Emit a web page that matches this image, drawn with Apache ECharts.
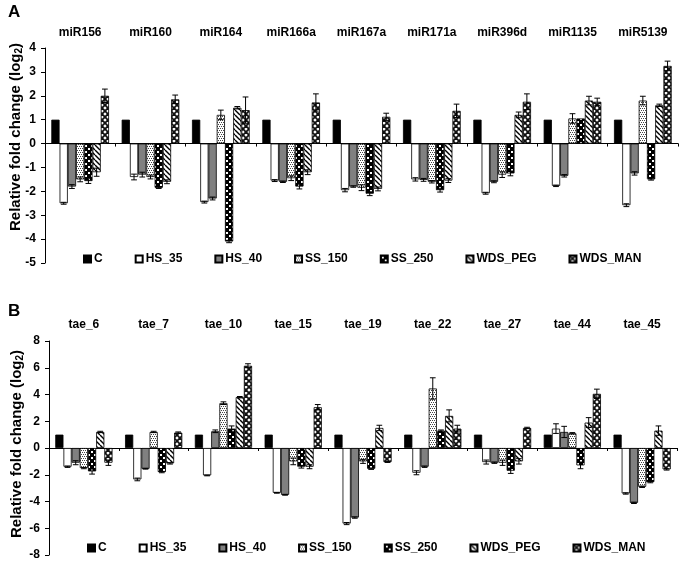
<!DOCTYPE html>
<html><head><meta charset="utf-8">
<script src="https://cdn.jsdelivr.net/npm/echarts@6/dist/echarts.min.js"></script>
<style>html,body{margin:0;padding:0;background:#fff}#c{width:682px;height:563px}</style>
</head><body><div id="c"></div>
<script>
// ---------- DATA ----------
const seriesNames = ['C','HS_35','HS_40','SS_150','SS_250','WDS_PEG','WDS_MAN'];

const catsA = ['miR156','miR160','miR164','miR166a','miR167a','miR171a','miR396d','miR1135','miR5139'];
const A_C      = [1,1,1,1,1,1,1,1,1];
const A_HS35   = [-2.5,-1.4,-2.45,-1.55,-1.95,-1.5,-2.08,-1.77,-2.58];
const A_HS40   = [-1.8,-1.3,-2.3,-1.6,-1.8,-1.52,-1.6,-1.35,-1.25];
const A_SS150  = [-1.5,-1.4,1.2,-1.45,-1.85,-1.6,-1.3,1.05,1.8];
const A_SS250  = [-1.57,-1.85,-4.1,-1.8,-2.1,-1.95,-1.25,1.05,-1.5];
const A_PEG    = [-1.2,-1.6,1.5,-1.2,-1.9,-1.55,1.2,1.8,1.6];
const A_MAN    = [2.0,1.85,1.4,1.72,1.12,1.37,1.75,1.75,3.25];
const A_C_err     = [0,0,0,0,0,0,0,0,0];
const A_HS35_err  = [0.04,0.12,0.04,0.04,0.07,0.07,0.04,0.03,0.06];
const A_HS40_err  = [0.08,0.1,0.06,0.03,0.03,0.06,0.04,0.05,0.07];
const A_SS150_err = [0.1,0.08,0.2,0.1,0.12,0.05,0.12,0.2,0.18];
const A_SS250_err = [0.1,0.03,0.05,0.1,0.08,0.08,0.1,0,0.03];
const A_PEG_err   = [0.17,0.08,0.05,0.1,0.08,0.08,0.12,0.18,0.05];
const A_MAN_err   = [0.28,0.18,0.55,0.36,0.15,0.28,0.33,0.15,0.2];

const catsB = ['tae_6','tae_7','tae_10','tae_15','tae_19','tae_22','tae_27','tae_44','tae_45'];
const B_C      = [1,1,1,1,1,1,1,1,1];
const B_HS35   = [-1.4,-2.35,-2.05,-3.35,-5.65,-1.85,-1.05,1.45,-3.4];
const B_HS40   = [-1.1,-1.55,1.25,-3.5,-5.2,-1.4,-1.1,1.2,-4.1];
const B_SS150  = [-1.5,1.2,3.35,-1.0,-1.0,4.45,-1.1,1.1,-2.9];
const B_SS250  = [-1.75,-1.8,1.45,-1.4,-1.55,1.3,-1.7,-1.3,-2.55];
const B_PEG    = [1.2,-1.15,3.8,-1.4,1.5,2.4,-1.0,1.9,1.3];
const B_MAN    = [-1.1,1.15,6.15,3.05,-1.05,1.45,1.5,4.05,-1.6];
const B_C_err     = [0,0,0,0,0,0,0,0,0];
const B_HS35_err  = [0.05,0.1,0.03,0.03,0.08,0.15,0.15,0.36,0.05];
const B_HS40_err  = [0.15,0.03,0.1,0.03,0.05,0.05,0.05,0.42,0.05];
const B_SS150_err = [0.05,0.05,0.1,0.25,0.15,0.8,0.2,0.05,0.05];
const B_SS250_err = [0.2,0.05,0.2,0.1,0.05,0.05,0.2,0.25,0.05];
const B_PEG_err   = [0.05,0.05,0.05,0.15,0.2,0.45,0.2,0.37,0.35];
const B_MAN_err   = [0.2,0.05,0.15,0.2,0.03,0.25,0.05,0.35,0.05];

const yTicksA = {min:-5, max:4, interval:1};
const yTicksB = {min:-8, max:8, interval:2};

// ---------- STYLES ----------
function pat(size, draw){
  const c=document.createElement('canvas'); c.width=c.height=size;
  const ctx=c.getContext('2d'); draw(ctx,size); return {image:c, repeat:'repeat'};
}
const fillSS150 = pat(4,(x,s)=>{x.fillStyle='#fff';x.fillRect(0,0,s,s);x.fillStyle='#444';
  x.fillRect(0,0,1,1);x.fillRect(2,0,1,1);x.fillRect(1,2,1,1);x.fillRect(3,2,1,1);});
const fillSS250 = pat(6,(x,s)=>{x.fillStyle='#000';x.fillRect(0,0,s,s);x.fillStyle='#fff';x.fillRect(1,1,2,2);x.fillRect(4,4,2,2);});
const fillPEG = pat(5,(x,s)=>{x.fillStyle='#fff';x.fillRect(0,0,s,s);x.strokeStyle='#000';x.lineWidth=1.4;
  for(const k of [-s,0,s]){x.beginPath();x.moveTo(k,0);x.lineTo(k+s,s);x.stroke();}});
const fillMAN = pat(6,(x,s)=>{x.fillStyle='#fff';x.fillRect(0,0,s,s);x.strokeStyle='#111';x.lineWidth=1.8;
  for(const k of [-s,0,s]){x.beginPath();x.moveTo(k,0);x.lineTo(k+s,s);x.stroke();x.beginPath();x.moveTo(k,s);x.lineTo(k+s,0);x.stroke();}});
const fills = ['#000','#fff','#808080',fillSS150,fillSS250,fillPEG,fillMAN];

const GAP = 0.18;
const FONT = 'Liberation Sans, Arial, sans-serif';

function buildPanel(idx, cats, vals, errs){
  const series = [];
  vals.forEach((v,i)=>{
    series.push({
      type:'bar', name:seriesNames[i], xAxisIndex:idx*2, yAxisIndex:idx,
      data:v, barGap:'0%', barCategoryGap:(GAP*100)+'%',
      itemStyle:{color:fills[i], borderColor:'#000', borderWidth:0.8},
      emphasis:{disabled:true}, animation:false
    });
  });
  const eData=[];
  vals.forEach((v,i)=>v.forEach((y,j)=>eData.push([j,i,y,errs[i][j]])));
  series.push({
    type:'custom', xAxisIndex:idx*2, yAxisIndex:idx, z:5, animation:false, silent:true,
    encode:{x:0,y:2},
    data:eData,
    renderItem:(params,api)=>{
      const cat=api.value(0), s=api.value(1), v=api.value(2), e=api.value(3);
      if(!e) return null;
      const band=api.size([1,0])[0];
      const total=band*(1-GAP), bw=total/7;
      const cx=api.coord([cat,v])[0]-total/2+(s+0.5)*bw;
      const yt=api.coord([cat,v+e])[1], yb=api.coord([cat,v-e])[1];
      const hw=bw*0.35;
      const st={stroke:'#000',lineWidth:1};
      return {type:'group',children:[
        {type:'line',shape:{x1:cx,y1:yt,x2:cx,y2:yb},style:st},
        {type:'line',shape:{x1:cx-hw,y1:yt,x2:cx+hw,y2:yt},style:st},
        {type:'line',shape:{x1:cx-hw,y1:yb,x2:cx+hw,y2:yb},style:st}
      ]};
    }
  });
  return series;
}

const seriesA = buildPanel(0, catsA, [A_C,A_HS35,A_HS40,A_SS150,A_SS250,A_PEG,A_MAN],
  [A_C_err,A_HS35_err,A_HS40_err,A_SS150_err,A_SS250_err,A_PEG_err,A_MAN_err]);
const seriesB = buildPanel(1, catsB, [B_C,B_HS35,B_HS40,B_SS150,B_SS250,B_PEG,B_MAN],
  [B_C_err,B_HS35_err,B_HS40_err,B_SS150_err,B_SS250_err,B_PEG_err,B_MAN_err]);

function xAxes(gi, cats, labelMargin){
  return [
    {type:'category', gridIndex:gi, data:cats, position:'bottom',
     axisLine:{onZero:true, lineStyle:{color:'#000',width:1}},
     axisTick:{show:true, length:3, lineStyle:{color:'#000'}},
     axisLabel:{show:false}, splitLine:{show:false}},
    {type:'category', gridIndex:gi, data:cats, position:'top',
     axisLine:{show:false}, axisTick:{show:false},
     axisLabel:{show:true, margin:labelMargin, color:'#000', fontFamily:FONT, fontWeight:'bold', fontSize:12}}
  ];
}
function yAxis(gi, t, margin){
  return {type:'value', gridIndex:gi, min:t.min, max:t.max, interval:t.interval,
    axisLine:{show:true, lineStyle:{color:'#000',width:1}},
    axisTick:{show:true, length:4, lineStyle:{color:'#000'}},
    splitLine:{show:false},
    axisLabel:{margin:margin, color:'#000', fontFamily:FONT, fontWeight:'bold', fontSize:12}};
}
const legendBase = {orient:'horizontal', icon:'rect', itemWidth:7, itemHeight:7, itemGap:32,
  textStyle:{fontFamily:FONT, fontWeight:'bold', fontSize:12, color:'#000', padding:[0,0,0,-2]},
  selectedMode:false, data:seriesNames};

const titleRich = {a:{fontFamily:FONT,fontWeight:'bold',fontSize:15,fill:'#000'},
                   s:{fontFamily:FONT,fontWeight:'bold',fontSize:10,fill:'#000',padding:[6,0,0,0]}};
function yTitle(x,y){
  return {type:'text', x:x, y:y, rotation:Math.PI/2,
    style:{text:'{a|Relative fold change (log}{s|2}{a|)}', rich:titleRich, align:'center', verticalAlign:'middle',
    fill:'#000', font:'bold 15px '+FONT}};
}

const chart = echarts.init(document.getElementById('c'), null, {renderer:'canvas'});
chart.setOption({
  animation:false,
  backgroundColor:'#fff',
  grid:[
    {left:45, right:4, top:48, height:215},
    {left:49, right:5, top:341, height:214}
  ],
  xAxis:[...xAxes(0,catsA,9), ...xAxes(1,catsB,10)],
  yAxis:[yAxis(0,yTicksA,9), yAxis(1,yTicksB,9)],
  legend:[
    Object.assign({}, legendBase, {left:78, top:248}),
    Object.assign({}, legendBase, {left:82, top:537})
  ],
  graphic:[
    {type:'text', left:8, top:4, style:{text:'A', font:'bold 17px '+FONT, fill:'#000'}},
    {type:'text', left:8, top:303, style:{text:'B', font:'bold 17px '+FONT, fill:'#000'}},
    yTitle(16,137),
    yTitle(17,444)
  ],
  series:[...seriesA, ...seriesB]
});
</script></body></html>
